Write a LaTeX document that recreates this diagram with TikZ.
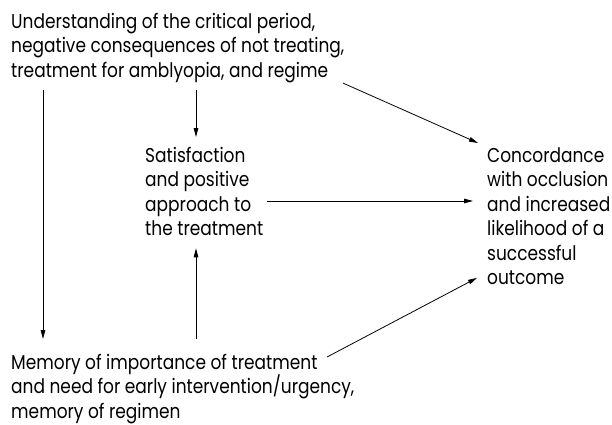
\documentclass[tikz,border=0pt]{standalone}
\usepackage{fontspec}
\setmainfont[FakeStretch=0.85]{Poppins}
\usetikzlibrary{arrows.meta,calc}
\begin{document}
\begin{tikzpicture}[x=1pt,y=-1pt,
  txt/.style={inner sep=0pt,align=left,anchor=north west,font=\fontsize{20}{24.5}\selectfont},
  arr/.style={-{Triangle[length=9pt,width=4.6pt]},line width=0.8pt}]
\useasboundingbox (0,0) rectangle (612,424);
\node[txt] (und) at (11,13) {Understanding of the critical period,\\negative consequences of not treating,\\treatment for amblyopia, and regime};
\node[txt] (sat) at (145,147) {Satisfaction\\and positive\\approach to\\the treatment};
\node[txt] (con) at (487,147) {Concordance\\with occlusion\\and increased\\likelihood of a\\successful\\outcome};
\node[txt] (mem) at (11,354) {Memory of importance of treatment\\and need for early intervention/urgency,\\memory of regimen};
\draw[arr] ([shift={(32,7)}]und.south west) -- ([shift={(32,-15)}]mem.north west);
\draw[arr] ([shift={(185,7)}]und.south west) -- ([shift={(51,-10)}]sat.north west);
\draw[arr] ([shift={(185,-15)}]mem.north west) -- ([shift={(51,12)}]sat.south west);
\draw[arr] ([shift={(122,54)}]sat.north west) -- ([shift={(-14,54)}]con.north west);
\draw[arr] ([shift={(332,0)}]und.south west) -- ([shift={(-9,-4)}]con.north west);
\draw[arr] ([shift={(316,3)}]mem.north west) -- ([shift={(-10,-7)}]con.south west);
\end{tikzpicture}
\end{document}
